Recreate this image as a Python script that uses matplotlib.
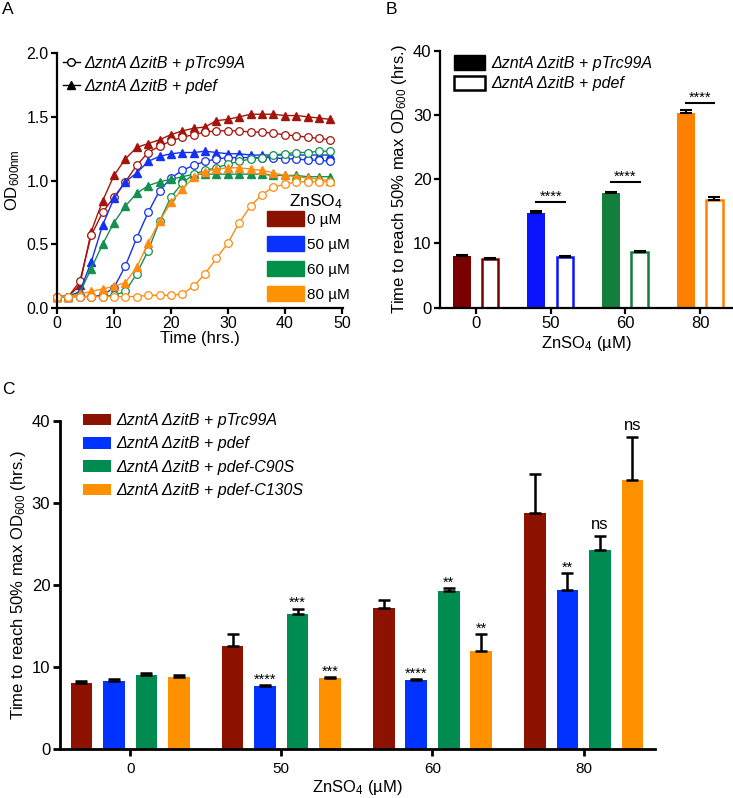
import matplotlib
matplotlib.use('Agg')
import matplotlib.pyplot as plt
from matplotlib.patches import Patch
from matplotlib.lines import Line2D
import numpy as np

plt.rcParams['font.family'] = ['Liberation Sans', 'DejaVu Sans']
plt.rcParams['mathtext.fontset'] = 'custom'
plt.rcParams['mathtext.rm'] = 'Liberation Sans'
plt.rcParams['mathtext.it'] = 'Liberation Sans:italic'

# ---------------- data ----------------
time_h = [0, 2, 4, 6, 8, 10, 12, 14, 16, 18, 20, 22, 24, 26, 28, 30, 32, 34, 36, 38, 40, 42, 44, 46, 48]
conc_labels = ['0 µM', '50 µM', '60 µM', '80 µM']

od_ptrc_0 = [0.09, 0.09, 0.21, 0.57, 0.75, 0.87, 0.99, 1.12, 1.22, 1.27, 1.31, 1.34, 1.36, 1.38, 1.39, 1.39, 1.39, 1.38, 1.38, 1.37, 1.36, 1.35, 1.34, 1.33, 1.32]
od_pdef_0 = [0.09, 0.09, 0.18, 0.60, 0.84, 1.04, 1.17, 1.26, 1.29, 1.32, 1.36, 1.39, 1.41, 1.42, 1.47, 1.48, 1.50, 1.52, 1.52, 1.52, 1.51, 1.51, 1.50, 1.49, 1.48]
od_ptrc_50 = [0.09, 0.09, 0.09, 0.09, 0.10, 0.16, 0.33, 0.55, 0.75, 0.92, 1.02, 1.08, 1.12, 1.15, 1.17, 1.18, 1.18, 1.18, 1.18, 1.18, 1.17, 1.17, 1.16, 1.16, 1.15]
od_pdef_50 = [0.09, 0.09, 0.13, 0.36, 0.65, 0.86, 0.99, 1.06, 1.15, 1.19, 1.21, 1.22, 1.22, 1.23, 1.22, 1.21, 1.21, 1.20, 1.20, 1.20, 1.20, 1.20, 1.20, 1.20, 1.20]
od_ptrc_60 = [0.09, 0.09, 0.09, 0.09, 0.09, 0.10, 0.13, 0.27, 0.45, 0.68, 0.87, 0.98, 1.05, 1.08, 1.10, 1.13, 1.15, 1.17, 1.18, 1.20, 1.21, 1.22, 1.22, 1.23, 1.23]
od_pdef_60 = [0.09, 0.09, 0.12, 0.31, 0.50, 0.67, 0.80, 0.90, 0.96, 0.99, 1.01, 1.03, 1.05, 1.05, 1.05, 1.05, 1.05, 1.05, 1.05, 1.04, 1.04, 1.04, 1.03, 1.03, 1.03]
od_ptrc_80 = [0.09, 0.09, 0.09, 0.09, 0.09, 0.09, 0.09, 0.09, 0.10, 0.10, 0.10, 0.11, 0.17, 0.27, 0.39, 0.51, 0.67, 0.80, 0.89, 0.95, 0.97, 0.99, 0.99, 0.99, 0.99]
od_pdef_80 = [0.09, 0.09, 0.11, 0.13, 0.15, 0.17, 0.20, 0.32, 0.51, 0.68, 0.83, 0.93, 1.03, 1.07, 1.09, 1.10, 1.10, 1.09, 1.08, 1.06, 1.04, 1.03, 1.02, 1.01, 1.00]

zn_ticks = ['0', '50', '60', '80']

# panel B
b_ptrc = [8.0, 14.8, 17.8, 30.3]
b_ptrc_err = [0.25, 0.2, 0.25, 0.5]
b_pdef = [7.6, 7.9, 8.6, 16.8]
b_pdef_err = [0.2, 0.2, 0.25, 0.5]
b_sig_groups = [1, 2, 3]
b_sig_y = [16.5, 19.5, 31.8]
b_sig_text = ['****', '****', '****']

# panel C
c_labels = ['ΔzntA ΔzitB + pTrc99A', 'ΔzntA ΔzitB + pdef',
            'ΔzntA ΔzitB + pdef-C90S', 'ΔzntA ΔzitB + pdef-C130S']
c_ptrc = [8.0, 12.5, 17.2, 28.8]
c_ptrc_err = [0.25, 1.5, 1.0, 4.7]
c_pdef = [8.3, 7.7, 8.4, 19.4]
c_pdef_err = [0.2, 0.1, 0.1, 2.0]
c_c90s = [9.0, 16.4, 19.2, 24.2]
c_c90s_err = [0.25, 0.7, 0.4, 1.7]
c_c130s = [8.8, 8.65, 12.0, 32.8]
c_c130s_err = [0.2, 0.15, 2.0, 5.2]
c_sig_pdef = ['', '****', '****', '**']
c_sig_c90s = ['', '***', '**', 'ns']
c_sig_c130s = ['', '***', '**', 'ns']

# ---------------- style ----------------
colA = ['#A3150C', '#1432F0', '#149050', '#FF8C10']
colA_patch = ['#8B1200', '#0A32FF', '#00904A', '#FF9200']
colB = ['#7A0000', '#0A14FF', '#137F3C', '#FF8000']
colC = ['#8E1200', '#0033FF', '#008C50', '#FF9100']

fig = plt.figure(figsize=(7.33, 7.98), dpi=100)

def style_axes(ax, lw=1.6, ticklen=4, xsize=12, ysize=12):
    for s in ['top', 'right']:
        ax.spines[s].set_visible(False)
    for s in ['left', 'bottom']:
        ax.spines[s].set_linewidth(lw)
    ax.tick_params(direction='out', length=ticklen, width=lw, pad=2)
    ax.tick_params(axis='x', labelsize=xsize)
    ax.tick_params(axis='y', labelsize=ysize)

# ---------------- Panel A ----------------
axA = fig.add_axes([0.0778, 0.614, 0.390, 0.3195])
style_axes(axA, xsize=11.5, ysize=11.5)
curves = [(od_ptrc_0, od_pdef_0), (od_ptrc_50, od_pdef_50), (od_ptrc_60, od_pdef_60), (od_ptrc_80, od_pdef_80)]
for (circ, tri), c in zip(curves, colA):
    axA.plot(time_h, tri, color=c, lw=1.0, marker='^', ms=5.5, mfc=c, mec=c, clip_on=False)
    axA.plot(time_h, circ, color=c, lw=1.0, marker='o', ms=5.5, mfc='white', mec=c, mew=0.9, clip_on=False)
axA.set_xlim(0, 50.2)
axA.set_ylim(0, 2.0)
axA.set_xticks([0, 10, 20, 30, 40, 50])
axA.set_yticks([0.0, 0.5, 1.0, 1.5, 2.0])
axA.set_yticklabels(['0.0', '0.5', '1.0', '1.5', '2.0'])
axA.set_xlabel('Time (hrs.)', fontsize=12, labelpad=0)
axA.set_ylabel(r'OD$_{\mathrm{600nm}}$', fontsize=12, labelpad=3)

h1 = [Line2D([], [], color='k', lw=1.0, marker='o', ms=5.5, mfc='white', mec='k'),
      Line2D([], [], color='k', lw=1.0, marker='^', ms=5.5, mfc='k', mec='k')]
legA1 = axA.legend(h1, ['ΔzntA ΔzitB + pTrc99A', 'ΔzntA ΔzitB + pdef'],
                   loc='upper left', bbox_to_anchor=(0.021, 0.99), frameon=False,
                   prop={'style': 'italic', 'size': 11.5}, handlelength=1.06,
                   handletextpad=0.3, labelspacing=0.5, borderpad=0, borderaxespad=0)
axA.add_artist(legA1)
axA.text(1.0, 0.416, 'ZnSO$_4$', transform=axA.transAxes, ha='right', va='center',
         fontsize=12.5)
h2 = [Patch(facecolor=c, edgecolor=c) for c in colA_patch]
legA2 = axA.legend(h2, conc_labels, loc='upper left',
                   bbox_to_anchor=(0.734, 0.38), frameon=False, prop={'size': 11},
                   handlelength=2.45, handleheight=1.1,
                   handletextpad=0.2, labelspacing=0.62, borderpad=0, borderaxespad=0)

# ---------------- Panel B ----------------
axB = fig.add_axes([0.600, 0.6144, 0.400, 0.322])
style_axes(axB)
xB = np.arange(len(zn_ticks))
wB = 0.24
offB = 0.19
ekw = dict(ecolor='k', elinewidth=1.5, capsize=4, capthick=1.5)
axB.bar(xB - offB, b_ptrc, wB, color=colB, yerr=[[0] * 4, b_ptrc_err], error_kw=ekw, zorder=2)
axB.bar(xB + offB, b_pdef, wB - 0.02, facecolor='white', edgecolor=colB, linewidth=1.8,
        yerr=[[0] * 4, b_pdef_err], error_kw=ekw, zorder=2)
for g, y, t in zip(b_sig_groups, b_sig_y, b_sig_text):
    axB.plot([g - offB, g + offB], [y, y], color='k', lw=1.5)
    axB.annotate(t, (g, y), xytext=(0, 1), textcoords='offset points',
                 ha='center', va='baseline', fontsize=10.5)
axB.set_xlim(-0.482, 3.44)
axB.set_ylim(0, 40)
axB.set_xticks(xB)
axB.set_xticklabels(zn_ticks)
axB.set_yticks([0, 10, 20, 30, 40])
axB.set_xlabel('ZnSO$_4$ (µM)', fontsize=12, labelpad=2)
axB.set_ylabel('Time to reach 50% max OD$_{600}$ (hrs.)', fontsize=12, labelpad=3)
hB = [Patch(facecolor='black', edgecolor='black'),
      Patch(facecolor='white', edgecolor='black', linewidth=1.8)]
axB.legend(hB, ['ΔzntA ΔzitB + pTrc99A', 'ΔzntA ΔzitB + pdef'], loc='upper left',
           bbox_to_anchor=(0.048, 0.982), frameon=False, prop={'style': 'italic', 'size': 11.5},
           handlelength=1.95, handleheight=1.0, handletextpad=0.42, labelspacing=0.3,
           borderpad=0, borderaxespad=0)

# ---------------- Panel C ----------------
axC = fig.add_axes([0.0819, 0.0614, 0.8117, 0.4114])
style_axes(axC, lw=2.0, ticklen=5, xsize=11, ysize=12)
xC = np.arange(len(zn_ticks))
wC = 0.144
stepC = 0.215
seriesC = [(c_ptrc, c_ptrc_err, None), (c_pdef, c_pdef_err, c_sig_pdef),
           (c_c90s, c_c90s_err, c_sig_c90s), (c_c130s, c_c130s_err, c_sig_c130s)]
ekwC = dict(ecolor='k', elinewidth=1.8, capsize=4.5, capthick=1.8)
for i, ((vals, errs, sig), c, lab) in enumerate(zip(seriesC, colC, c_labels)):
    pos = xC + (i - 1.5) * stepC
    axC.bar(pos, vals, wC, color=c, label=lab, yerr=[[0] * 4, errs], error_kw=ekwC, zorder=2)
    if sig is not None:
        for p, v, e, s in zip(pos, vals, errs, sig):
            if not s:
                continue
            if s == 'ns':
                axC.annotate(s, (p, v + e), xytext=(0, 5), textcoords='offset points',
                             ha='center', va='baseline', fontsize=12)
            else:
                axC.annotate(s, (p, v + e), xytext=(0, 1), textcoords='offset points',
                             ha='center', va='baseline', fontsize=10.5)
axC.set_xlim(-0.464, 3.472)
axC.set_ylim(0, 40)
axC.set_xticks(xC)
axC.set_xticklabels(zn_ticks)
axC.set_yticks([0, 10, 20, 30, 40])
axC.tick_params(axis='x', pad=4)
axC.set_xlabel('ZnSO$_4$ (µM)', fontsize=12, labelpad=2)
axC.set_ylabel('Time to reach 50% max OD$_{600}$ (hrs.)', fontsize=12, labelpad=3)
axC.legend(loc='upper left', bbox_to_anchor=(0.038, 1.023), frameon=False,
           prop={'style': 'italic', 'size': 11.5}, handlelength=1.8, handleheight=0.75,
           handletextpad=0.3, labelspacing=0.52, borderpad=0, borderaxespad=0)

# panel letters
fig.text(0.003, 0.997, 'A', fontsize=12.5, va='top', ha='left')
fig.text(0.526, 0.997, 'B', fontsize=12.5, va='top', ha='left')
fig.text(0.003, 0.521, 'C', fontsize=12.5, va='top', ha='left')

fig.savefig('out.png', dpi=100)
